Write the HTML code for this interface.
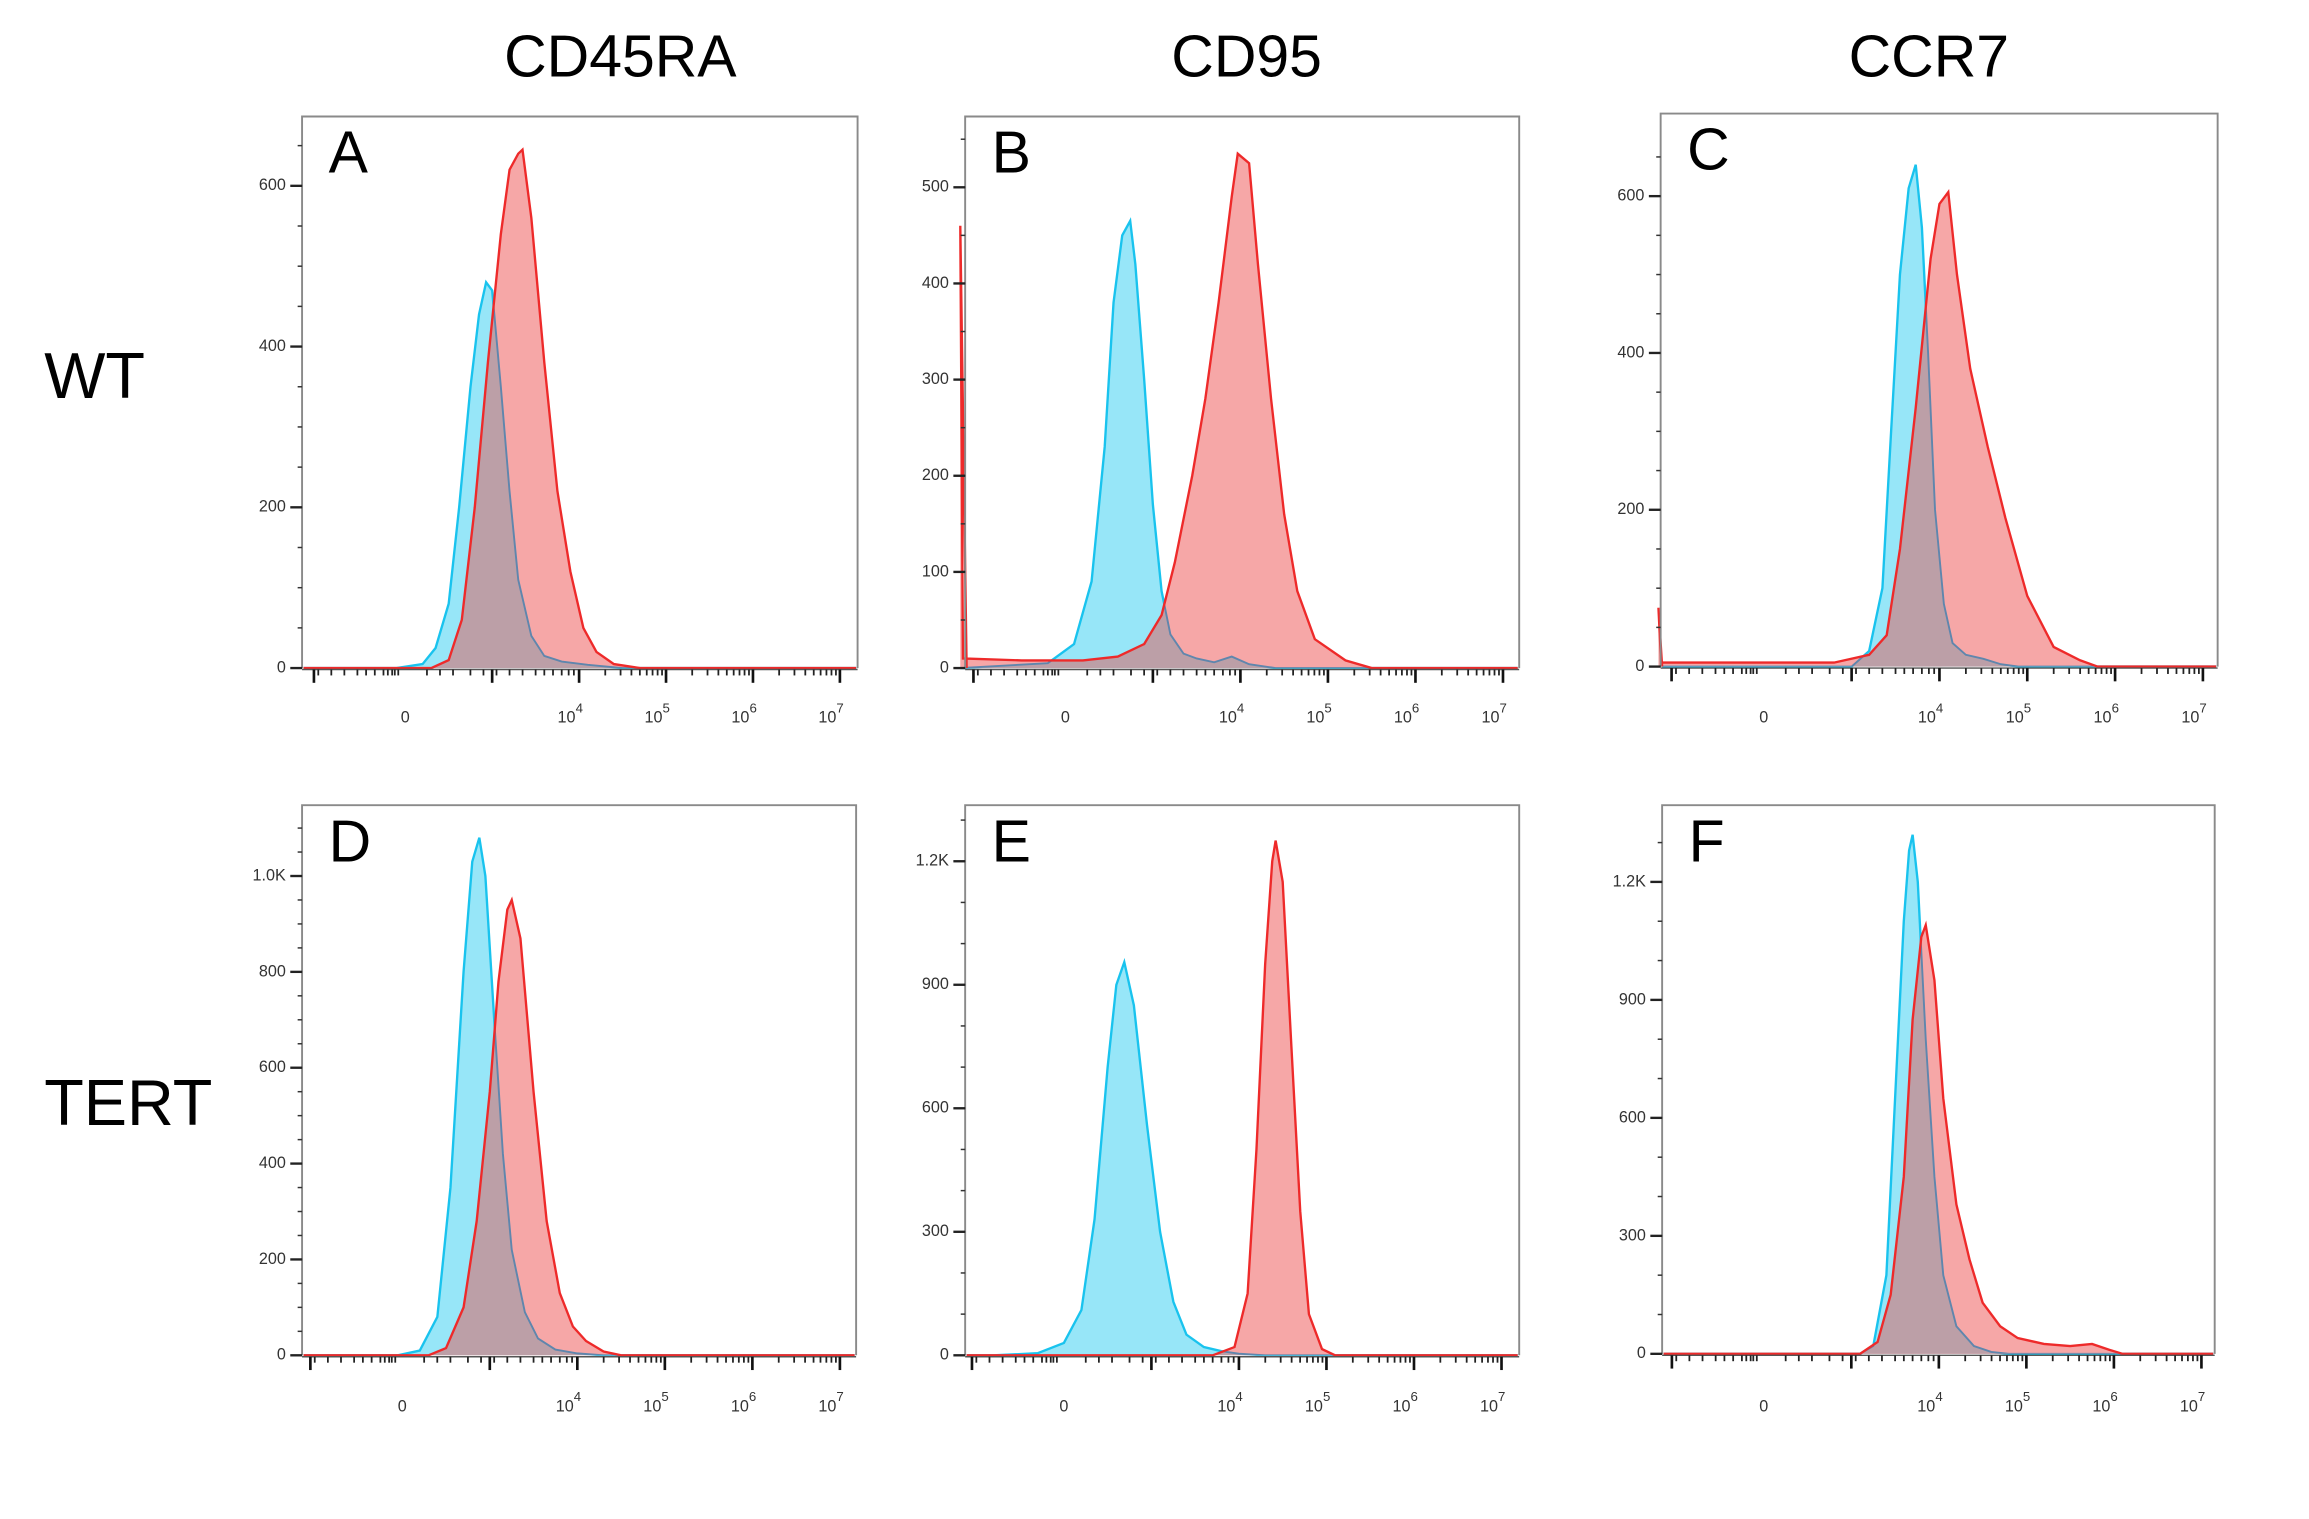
<!DOCTYPE html>
<html><head><meta charset="utf-8">
<style>
html,body{margin:0;padding:0;background:#fff;}
svg{display:block;font-family:"Liberation Sans",Arial,sans-serif;}
</style></head>
<body>
<svg id="fig" width="2309" height="1519" viewBox="0 0 1567 1030" preserveAspectRatio="none" xmlns="http://www.w3.org/2000/svg">
<text x="421" y="52" font-size="40" text-anchor="middle">CD45RA</text>
<text x="846" y="52" font-size="40" text-anchor="middle">CD95</text>
<text x="1309" y="52" font-size="40" text-anchor="middle">CCR7</text>
<text x="30" y="270" font-size="44">WT</text>
<text x="30" y="763" font-size="44">TERT</text>
<g id="panels"></g>
</svg>
<script>
// Histogram data: x in decade units (t=2 at "0" label, 4 = 10^4 ...), y = count
const A_blue_t=[1.9,2.2,2.35,2.5,2.62,2.75,2.85,2.93,3.0,3.1,3.2,3.3,3.45,3.6,3.8,4.1,4.5,5];
const A_blue_v=[0,5,25,80,200,350,440,480,470,350,220,110,40,15,8,4,0,0];
const A_red_t=[2.3,2.5,2.65,2.8,2.95,3.1,3.2,3.3,3.35,3.45,3.6,3.75,3.9,4.05,4.2,4.4,4.7];
const A_red_v=[0,10,60,200,380,540,620,640,645,560,380,220,120,50,20,5,0];
const B_blue_t=[0.8,1.8,2.1,2.3,2.45,2.55,2.65,2.74,2.8,2.9,3.0,3.1,3.2,3.35,3.5,3.7,3.9,4.1,4.4];
const B_blue_v=[0,5,25,90,230,380,450,465,420,300,170,80,35,15,10,6,12,4,0];
const B_red_t=[0.8,0.83,1.5,2.2,2.6,2.9,3.1,3.25,3.45,3.6,3.75,3.9,3.97,4.1,4.2,4.35,4.5,4.65,4.85,5.2,5.5];
const B_red_v=[460,10,8,8,12,25,55,110,200,280,380,490,535,525,420,280,160,80,30,8,0];
const C_blue_t=[3.0,3.2,3.35,3.45,3.55,3.65,3.73,3.8,3.87,3.95,4.05,4.15,4.3,4.5,4.7,4.9];
const C_blue_v=[0,20,100,300,500,610,640,560,400,200,80,30,15,10,3,0];
const C_red_t=[0.8,0.83,2,2.8,3.2,3.4,3.55,3.73,3.9,4.0,4.1,4.2,4.35,4.55,4.75,5.0,5.3,5.6,5.8];
const C_red_v=[75,5,5,5,15,40,150,330,520,590,605,500,380,280,190,90,25,8,0];
const D_blue_t=[1.95,2.2,2.4,2.55,2.7,2.8,2.88,2.95,3.05,3.15,3.25,3.4,3.55,3.75,4.0,4.3];
const D_blue_v=[0,10,80,350,800,1030,1080,1000,700,420,220,90,35,12,4,0];
const D_red_t=[2.3,2.5,2.7,2.85,3.0,3.1,3.2,3.25,3.35,3.5,3.65,3.8,3.95,4.1,4.3,4.5];
const D_red_v=[0,15,100,280,550,780,930,950,870,550,280,130,60,30,8,0];
const E_blue_t=[1.2,1.7,2.0,2.2,2.35,2.5,2.6,2.69,2.8,2.95,3.1,3.25,3.4,3.6,3.8,4.0,4.3];
const E_blue_v=[0,5,30,110,330,700,900,955,850,560,300,130,50,20,10,4,0];
const E_red_t=[3.7,3.95,4.1,4.2,4.3,4.38,4.42,4.5,4.6,4.7,4.8,4.95,5.1];
const E_red_v=[0,20,150,500,950,1200,1250,1150,750,350,100,15,0];
const F_blue_t=[3.1,3.25,3.4,3.5,3.6,3.66,3.7,3.76,3.85,3.95,4.05,4.2,4.4,4.6,4.8];
const F_blue_v=[0,20,200,650,1100,1280,1320,1200,800,450,200,70,20,5,0];
const F_red_t=[3.1,3.3,3.45,3.6,3.7,3.8,3.85,3.95,4.05,4.2,4.35,4.5,4.7,4.9,5.2,5.5,5.75,5.95,6.1];
const F_red_v=[0,30,150,450,850,1060,1090,950,650,380,240,130,70,40,25,20,25,10,0];
const A_yticks=[0,200,400,600]; const A_ylabels=["0","200","400","600"];
const B_yticks=[0,100,200,300,400,500]; const B_ylabels=["0","100","200","300","400","500"];
const C_yticks=[0,200,400,600]; const C_ylabels=["0","200","400","600"];
const D_yticks=[0,200,400,600,800,1000]; const D_ylabels=["0","200","400","600","800","1.0K"];
const E_yticks=[0,300,600,900,1200]; const E_ylabels=["0","300","600","900","1.2K"];
const F_yticks=[0,300,600,900,1200]; const F_ylabels=["0","300","600","900","1.2K"];
const xDecades=[4,5,6,7];

const NS="http://www.w3.org/2000/svg";
const panels=[
 {id:"a",L:"A",x0:205,x1:582,top:79,base:453,zx:275,dec:59,y1:600,py1:126,minor:50,bt:[A_blue_t,A_blue_v],rd:[A_red_t,A_red_v],yt:A_yticks,yl:A_ylabels,lab:490},
 {id:"b",L:"B",x0:655,x1:1031,top:79,base:453,zx:723,dec:59.4,y1:500,py1:127,minor:50,bt:[B_blue_t,B_blue_v],rd:[B_red_t,B_red_v],yt:B_yticks,yl:B_ylabels,lab:490},
 {id:"c",L:"C",x0:1127,x1:1505,top:77,base:452,zx:1197,dec:59.6,y1:600,py1:133,minor:50,bt:[C_blue_t,C_blue_v],rd:[C_red_t,C_red_v],yt:C_yticks,yl:C_ylabels,lab:490},
 {id:"d",L:"D",x0:205,x1:581,top:546,base:919,zx:273,dec:59.4,y1:1000,py1:594,minor:50,bt:[D_blue_t,D_blue_v],rd:[D_red_t,D_red_v],yt:D_yticks,yl:D_ylabels,lab:957},
 {id:"e",L:"E",x0:655,x1:1031,top:546,base:919,zx:722,dec:59.4,y1:1200,py1:584,minor:100,bt:[E_blue_t,E_blue_v],rd:[E_red_t,E_red_v],yt:E_yticks,yl:E_ylabels,lab:957},
 {id:"f",L:"F",x0:1128,x1:1503,top:546,base:918,zx:1197,dec:59.4,y1:1200,py1:598,minor:100,bt:[F_blue_t,F_blue_v],rd:[F_red_t,F_red_v],yt:F_yticks,yl:F_ylabels,lab:957}
];
const root=document.getElementById("panels");
function mk(tag,attrs,parent){const e=document.createElementNS(NS,tag);for(const k in attrs)e.setAttribute(k,attrs[k]);(parent||root).appendChild(e);return e;}

panels.forEach(p=>{
  const g=mk("g",{});
  
  
  const xs=t=>p.zx+(t-2)*p.dec;
  const ys=v=>p.base-(v/p.y1)*(p.base-p.py1);
  const pathFor=(T,V)=>{let d="M"+xs(T[0]).toFixed(1)+","+p.base;T.forEach((t,i)=>{d+=" L"+xs(t).toFixed(1)+","+ys(V[i]).toFixed(1);});d+=" L"+xs(T[T.length-1]).toFixed(1)+","+p.base+" Z";return d;};
  const lineFor=(T,V)=>{let d="M"+(p.x0+1)+","+p.base+" L"+xs(T[0]).toFixed(1)+","+ys(V[0]).toFixed(1);T.forEach((t,i)=>{d+=" L"+xs(t).toFixed(1)+","+ys(V[i]).toFixed(1);});d+=" L"+(p.x1-1)+","+p.base;return d;};
  const bPath=pathFor(p.bt[0],p.bt[1]), rPath=pathFor(p.rd[0],p.rd[1]);
  const cpId="clip-red-"+p.id;
  const defs=mk("defs",{},g);const cp=mk("clipPath",{id:cpId},defs);mk("path",{d:rPath},cp);
  const bf=mk("path",{d:bPath,fill:"#97e6f8"},g);
  
  
  const bl=mk("path",{d:lineFor(p.bt[0],p.bt[1]),fill:"none",stroke:"#19c3ee","stroke-width":1.6},g);
  
  
  const rf=mk("path",{d:rPath,fill:"#f6a7a7"},g);
  
  
  const ov=mk("path",{d:bPath,fill:"#bc9fa7","clip-path":"url(#"+cpId+")"},g);
  
  
  mk("path",{d:lineFor(p.bt[0],p.bt[1]),fill:"none",stroke:"#5f86ad","stroke-width":1.3,"clip-path":"url(#"+cpId+")"},g);
  const rl=mk("path",{d:lineFor(p.rd[0],p.rd[1]),fill:"none",stroke:"#ee2a2a","stroke-width":1.6},g);
  
  
  const fr=mk("path",{d:`M${p.x0},${p.base} L${p.x0},${p.top} L${p.x1},${p.top} L${p.x1},${p.base}`,fill:"none",stroke:"#8a8a8a","stroke-width":1.3},g);
  
  
  mk("line",{x1:p.x0,y1:p.base+1,x2:p.x1,y2:p.base+1,stroke:"#555","stroke-width":1},g);
  for(let v=0; ys(v)>p.top+3; v+=p.minor){mk("line",{x1:p.x0-3,y1:ys(v),x2:p.x0,y2:ys(v),stroke:"#333","stroke-width":1},g);}
  p.yt.forEach((v,i)=>{
    mk("line",{x1:p.x0-8,y1:ys(v),x2:p.x0,y2:ys(v),stroke:"#222","stroke-width":1.6},g);
    const t=mk("text",{x:p.x0-11,y:ys(v)+3,"font-size":11,"text-anchor":"end",fill:"#333"},g);
    t.textContent=p.yl[i];
    
    
  });
  const xt=[];
  for(let d=4;d<7;d++){for(let k=2;k<10;k++)xt.push(d+Math.log10(k));}
  [1.0,1.15,1.3,1.45,1.55,1.65,1.75,1.8,1.85,1.88,1.92,2.25,2.4,2.55,2.75,2.9,3.05,3.2,3.35,3.5,3.6,3.7,3.8,3.88,3.94].forEach(t=>xt.push(t));
  xt.forEach(t=>{if(xs(t)>p.x0&&xs(t)<p.x1)mk("line",{x1:xs(t),y1:p.base+1,x2:xs(t),y2:p.base+5,stroke:"#222","stroke-width":1.2},g);});
  [0.95,3.0].concat(xDecades).forEach(t=>{mk("line",{x1:xs(t),y1:p.base+1,x2:xs(t),y2:p.base+10,stroke:"#111","stroke-width":1.8},g);});
  const z=mk("text",{x:xs(2),y:p.lab,"font-size":11,"text-anchor":"middle",fill:"#333"},g);
  z.textContent="0";
  
  
  xDecades.forEach(d=>{
    const t=mk("text",{x:xs(d)-6,y:p.lab,"font-size":11,"text-anchor":"middle",fill:"#333"},g);
    
    
    t.textContent="10";
    const s=mk("tspan",{dy:-7,"font-size":9},t);s.textContent=String(d);
  });
  const L=mk("text",{x:p.x0+18,y:p.top+38,"font-size":40,fill:"#000"},g);
  L.textContent=p.L;
  
  
});
</script>
</body></html>
